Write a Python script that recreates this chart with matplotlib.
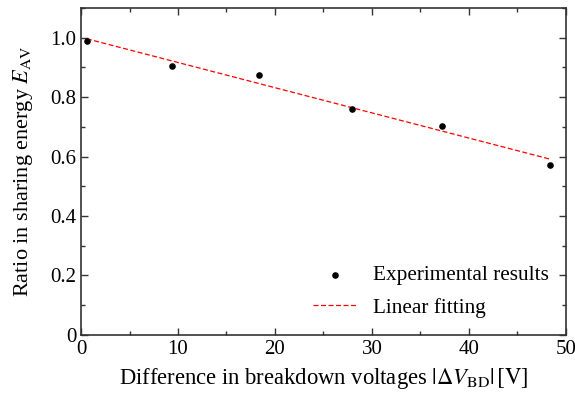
import numpy as np
import matplotlib
matplotlib.use("Agg")
import matplotlib.pyplot as plt
from matplotlib.ticker import MultipleLocator

# data
delta_v = [0.59, 9.4, 18.35, 27.97, 37.2, 48.4]
ratio_e = [0.99, 0.903, 0.875, 0.76, 0.704, 0.573]

# linear fitting line end points
fit_x = [0.59, 48.4]
fit_y = [0.996, 0.591]

plt.rcParams["font.family"] = ["Liberation Serif", "DejaVu Serif"]
plt.rcParams["mathtext.fontset"] = "stix"

fig = plt.figure(figsize=(5.75, 3.94), dpi=100)
ax = fig.add_axes([0.141, 0.150, 0.843, 0.830])

ax.scatter(delta_v, ratio_e, s=14, color="black", zorder=3,
           label="Experimental results")
ax.plot(fit_x, fit_y, color="red", linestyle=(0, (4, 2)), linewidth=0.9,
        label="Linear fitting")

ax.set_xlim(0, 50)
ax.set_ylim(0, 1.1)
ax.xaxis.set_major_locator(MultipleLocator(10))
ax.xaxis.set_minor_locator(MultipleLocator(5))
ax.yaxis.set_minor_locator(MultipleLocator(0.1))
ax.set_yticks([0, 0.2, 0.4, 0.6, 0.8, 1.0])
ax.set_yticklabels(["0", "0.2", "0.4", "0.6", "0.8", "1.0"])

ax.tick_params(which="both", direction="in", top=True, right=True,
               labelsize=15, colors="#333333", labelcolor="black")
ax.tick_params(which="major", length=5, width=1)
ax.tick_params(which="minor", length=3, width=1)
for sp in ax.spines.values():
    sp.set_linewidth(1.2)
    sp.set_color("#333333")

ax.set_xlabel(r"Difference in breakdown voltages $|\Delta V_{\mathrm{BD}}|\,[\mathrm{V}]$",
              fontsize=16.3, labelpad=5)
ax.set_ylabel(r"Ratio in sharing energy $E_{\mathrm{AV}}$", fontsize=16, labelpad=11)

ax.legend(loc="lower right", frameon=False, fontsize=15.3, handlelength=2.0,
          borderaxespad=0.4, labelspacing=0.6, handletextpad=0.8)

fig.savefig("out.png", dpi=100)
